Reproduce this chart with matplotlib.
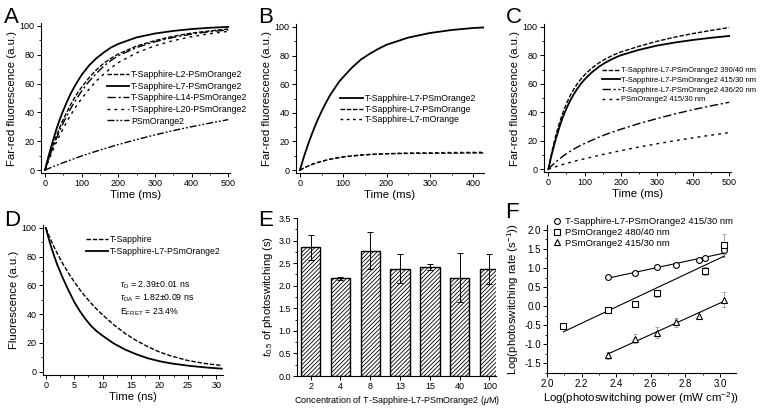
import numpy as np
import matplotlib
matplotlib.use("Agg")
import matplotlib.pyplot as plt
from matplotlib.ticker import MultipleLocator, FormatStrFormatter

plt.rcParams['font.family'] = ['Liberation Sans', 'DejaVu Sans']
plt.rcParams['mathtext.fontset'] = 'custom'
plt.rcParams['mathtext.rm'] = 'Liberation Sans'
plt.rcParams['mathtext.it'] = 'Liberation Sans:italic'
plt.rcParams['mathtext.bf'] = 'Liberation Sans:bold'
plt.rcParams['axes.unicode_minus'] = False
plt.rcParams['hatch.linewidth'] = 0.6

# ---------------- Data ----------------
# Panel A
tA = [0, 5, 10, 20, 30, 40, 50, 60, 70, 80, 90, 100, 120, 140, 160, 180, 200, 250, 300, 350, 400, 450, 500]
A_L2 = [0, 4.3, 8.3, 16, 23, 29.5, 35.3, 40.5, 45.5, 50, 54, 57.5, 64, 69.5, 74, 77.5, 80.5, 86, 89.8, 92.8, 95, 96.5, 97.8]
A_L7 = [0, 5.2, 10, 19, 27.5, 35, 41.5, 47.5, 53, 57.7, 62, 66, 72.5, 77.5, 81.5, 85, 87.5, 92, 94.7, 96.5, 97.8, 98.7, 99.3]
A_L14 = [0, 4, 7.7, 14.8, 21.3, 27.3, 32.8, 38, 42.7, 47, 51, 54.8, 61.5, 67, 72, 76, 79.3, 85, 89, 92, 94.3, 96, 97.2]
A_L20 = [0, 3.4, 6.7, 13, 18.8, 24, 29, 33.8, 38.2, 42.3, 46, 49.7, 56, 61.8, 66.5, 70.8, 74.5, 81.3, 86.2, 89.8, 92.5, 94.6, 96.2]
A_PSm = [0, 0.5, 1.1, 2.2, 3.2, 4.2, 5.2, 6.1, 7, 8, 8.9, 9.8, 11.5, 13.1, 14.7, 16.2, 17.7, 21.2, 24.4, 27.4, 30.1, 32.6, 35]
A_labels = ["T-Sapphire-L2-PSmOrange2", "T-Sapphire-L7-PSmOrange2",
            "T-Sapphire-L14-PSmOrange2", "T-Sapphire-L20-PSmOrange2", "PSmOrange2"]

# Panel B
tB = [0, 5, 10, 20, 30, 40, 50, 60, 70, 80, 90, 100, 120, 140, 160, 180, 200, 250, 300, 350, 400, 425]
B_L7PSm2 = [0, 5.1, 10, 19, 27, 34.5, 41, 47, 52.5, 57, 61.5, 65, 71.5, 77, 81, 84.5, 87.5, 92.5, 95.7, 97.8, 99.2, 99.6]
B_L7PSm = [0, 0.8, 1.6, 3, 4.2, 5.2, 6.1, 6.9, 7.6, 8.2, 8.7, 9.2, 9.9, 10.5, 10.9, 11.2, 11.4, 11.7, 11.8, 11.9, 12.0, 12.0]
B_L7mO = [0, 0.8, 1.6, 3, 4.2, 5.2, 6.1, 6.9, 7.6, 8.2, 8.7, 9.2, 9.9, 10.5, 10.9, 11.2, 11.5, 11.9, 12.1, 12.3, 12.4, 12.5]
B_labels = ["T-Sapphire-L7-PSmOrange2", "T-Sapphire-L7-PSmOrange", "T-Sapphire-L7-mOrange"]

# Panel C
tC = [0, 5, 10, 20, 30, 40, 50, 60, 70, 80, 90, 100, 120, 140, 160, 180, 200, 250, 300, 350, 400, 450, 500]
C_390 = [0, 6.5, 12.5, 23, 32, 39.5, 46, 51.5, 56, 60, 63.3, 66.2, 71, 74.7, 77.7, 80.2, 82.3, 86.3, 89.8, 92.8, 95.3, 97.5, 99.5]
C_415 = [0, 5.5, 11, 20.5, 29, 36.5, 42.5, 48, 52.5, 56.5, 60, 63, 68, 72, 75.2, 77.8, 80, 83.8, 86.8, 89, 90.8, 92.3, 93.6]
C_436 = [0, 1.3, 2.6, 4.9, 7, 9, 10.8, 12.5, 14, 15.5, 16.8, 18, 20.3, 22.5, 24.5, 26.3, 28, 32, 35.5, 38.8, 41.8, 44.5, 47]
C_PSm = [0, 0.4, 0.9, 1.7, 2.5, 3.3, 4, 4.7, 5.4, 6.1, 6.7, 7.3, 8.5, 9.7, 10.8, 11.9, 13, 15.5, 17.8, 20, 22, 23.9, 25.7]
C_labels = ["T-Sapphire-L7-PSmOrange2 390/40 nm", "T-Sapphire-L7-PSmOrange2 415/30 nm",
            "T-Sapphire-L7-PSmOrange2 436/20 nm", "PSmOrange2 415/30 nm"]

# Panel D
tD = [0, 0.5, 1, 1.5, 2, 3, 4, 5, 6, 7, 8, 9, 10, 12, 14, 16, 18, 20, 22, 25, 28, 31]
D_TS = [100, 95, 90.5, 86.3, 82.3, 75, 68.5, 62.5, 57, 52, 47.5, 43.3, 39.5, 32.5, 26.5, 21.5, 17.3, 13.7, 11, 7.8, 5.7, 4.3]
D_L7 = [100, 92.5, 86, 80, 74.5, 65, 56.5, 48.5, 42, 36.5, 31.7, 28, 25, 19.5, 15.3, 12, 9.3, 7.3, 5.8, 4.2, 3, 2.1]
D_labels = ["T-Sapphire", "T-Sapphire-L7-PSmOrange2"]

# Panel E
E_conc = ["2", "4", "8", "13", "15", "40", "100"]
E_t05 = [2.85, 2.16, 2.78, 2.38, 2.42, 2.18, 2.37]
E_err = [0.27, 0.04, 0.40, 0.33, 0.07, 0.54, 0.34]

# Panel F
F_circ_x = [2.35, 2.51, 2.635, 2.745, 2.88, 2.915, 3.025]
F_circ_y = [0.76, 0.88, 1.02, 1.08, 1.20, 1.26, 1.47]
F_circ_e = [0.04, 0.04, 0.05, 0.05, 0.05, 0.05, 0.10]
F_sq_x = [2.095, 2.35, 2.51, 2.635, 2.915, 3.025]
F_sq_y = [-0.53, -0.10, 0.05, 0.33, 0.92, 1.60]
F_sq_e = [0.03, 0.05, 0.06, 0.10, 0.10, 0.30]
F_tri_x = [2.35, 2.51, 2.635, 2.745, 2.88, 3.025]
F_tri_y = [-1.30, -0.86, -0.70, -0.43, -0.25, 0.17]
F_tri_e = [0.08, 0.12, 0.15, 0.12, 0.10, 0.20]
F_labels = ["T-Sapphire-L7-PSmOrange2 415/30 nm", "PSmOrange2 480/40 nm", "PSmOrange2 415/30 nm"]

# ---------------- Figure ----------------
W, H = 762, 409
fig = plt.figure(figsize=(W / 100, H / 100), dpi=100)


def add_ax(left, top, right, bottom):
    return fig.add_axes([left / W, 1 - bottom / H, (right - left) / W, (bottom - top) / H])


def style(ax, xmaj, xmin, ymaj, ymin):
    for s in ['top', 'right']:
        ax.spines[s].set_visible(False)
    for s in ['left', 'bottom']:
        ax.spines[s].set_linewidth(0.8)
    if xmaj:
        ax.xaxis.set_major_locator(MultipleLocator(xmaj))
        ax.xaxis.set_minor_locator(MultipleLocator(xmin))
    ax.yaxis.set_major_locator(MultipleLocator(ymaj))
    ax.yaxis.set_minor_locator(MultipleLocator(ymin))
    ax.tick_params(which='major', direction='out', length=3, width=0.7, labelsize=6.5, pad=1.5)
    ax.tick_params(which='minor', direction='out', length=1.7, width=0.6)


def leg(ax, x, y, fs=6.6, spacing=0.35, hl=2.3, htp=0.3):
    return ax.legend(loc='upper left', bbox_to_anchor=(x / W, 1 - y / H),
                     bbox_transform=fig.transFigure, frameon=False, fontsize=fs,
                     handlelength=hl, handletextpad=htp, labelspacing=spacing,
                     borderpad=0, borderaxespad=0)


lw = 1.0
dash = (0, (3.2, 1.3))
dot = (0, (2, 3))
dashdot = (0, (6, 2, 1.5, 2))
dashdotdot = (0, (5, 1.5, 1.3, 1.5, 1.3, 1.5))
lab_fs = 8.2

# Panel A
axA = add_ax(41, 23, 230, 173)
axA.plot(tA, A_L2, color='k', lw=lw, ls=dash, label=A_labels[0])
axA.plot(tA, A_L7, color='k', lw=1.3, ls='-', label=A_labels[1])
axA.plot(tA, A_L14, color='k', lw=lw, ls=dashdot, label=A_labels[2])
axA.plot(tA, A_L20, color='k', lw=lw, ls=dot, label=A_labels[3])
axA.plot(tA, A_PSm, color='k', lw=lw, ls=dashdotdot, label=A_labels[4])
axA.set_xlim(-11, 505)
axA.set_ylim(-2, 102)
style(axA, 100, 50, 20, 10)
axA.set_xlabel("Time (ms)", fontsize=lab_fs, labelpad=1)
axA.set_ylabel("Far-red fluorescence (a.u.)", fontsize=lab_fs, labelpad=2)
leg(axA, 107, 70, fs=6.3, spacing=0.3, hl=2.5, htp=0.25)

# Panel B
axB = add_ax(296, 24, 484, 173)
axB.plot(tB, B_L7PSm2, color='k', lw=1.3, ls='-', label=B_labels[0])
axB.plot(tB, B_L7PSm, color='k', lw=lw, ls=dash, label=B_labels[1])
axB.plot(tB, B_L7mO, color='k', lw=lw, ls=(0, (2, 2.5)), label=B_labels[2])
axB.set_xlim(-9, 425)
axB.set_ylim(-2, 102)
style(axB, 100, 50, 20, 10)
axB.set_xlabel("Time (ms)", fontsize=lab_fs, labelpad=1)
axB.set_ylabel("Far-red fluorescence (a.u.)", fontsize=lab_fs, labelpad=2)
leg(axB, 340, 94, fs=6.3, spacing=0.2, hl=2.6, htp=0.25)

# Panel C
axC = add_ax(544, 24, 731, 172)
axC.plot(tC, C_390, color='k', lw=lw, ls=dash, label=C_labels[0])
axC.plot(tC, C_415, color='k', lw=1.3, ls='-', label=C_labels[1])
axC.plot(tC, C_436, color='k', lw=lw, ls=dashdot, label=C_labels[2])
axC.plot(tC, C_PSm, color='k', lw=lw, ls=dot, label=C_labels[3])
axC.set_xlim(-12, 505)
axC.set_ylim(-2, 102)
style(axC, 100, 50, 20, 10)
axC.set_xlabel("Time (ms)", fontsize=lab_fs, labelpad=1)
axC.set_ylabel("Far-red fluorescence (a.u.)", fontsize=lab_fs, labelpad=2)
leg(axC, 602, 67, fs=5.5, spacing=0.3, hl=2.3, htp=0.2)

# Panel D
axD = add_ax(43, 225, 223, 375)
axD.plot(tD, D_TS, color='k', lw=lw, ls=dash, label=D_labels[0])
axD.plot(tD, D_L7, color='k', lw=1.3, ls='-', label=D_labels[1])
axD.set_xlim(-0.5, 31.2)
axD.set_ylim(-2.3, 102)
style(axD, 5, 2.5, 20, 10)
axD.set_xlabel("Time (ns)", fontsize=lab_fs, labelpad=1)
axD.set_ylabel("Fluorescence (a.u.)", fontsize=lab_fs, labelpad=2)
leg(axD, 86, 235, fs=6.2, spacing=0.3, hl=2.6, htp=0.2)
txt_fs = 6.3
axD.text(120 / W, 1 - 285 / H, r"$\tau_{\rm D}$ = 2.39$\pm$0.01 ns", transform=fig.transFigure,
         fontsize=txt_fs, va='center')
axD.text(120 / W, 1 - 298.5 / H, r"$\tau_{\rm DA}$ = 1.82$\pm$0.09 ns", transform=fig.transFigure,
         fontsize=txt_fs, va='center')
axD.text(120 / W, 1 - 312 / H, r"E$_{\rm FRET}$ = 23.4%", transform=fig.transFigure,
         fontsize=txt_fs, va='center')

# Panel E
axE = add_ax(297, 218, 496, 376)
xE = np.arange(len(E_conc))
axE.bar(xE, E_t05, width=0.65, color='white', edgecolor='k', hatch='////////', lw=1.0, zorder=2)
axE.errorbar(xE, E_t05, yerr=E_err, fmt='none', ecolor='k', elinewidth=0.7, capsize=2,
             capthick=0.7, zorder=3)
axE.set_xlim(-0.46, 6.22)
axE.set_ylim(0, 3.5)
style(axE, None, None, 0.5, 0.25)
axE.set_xticks(xE)
axE.set_xticklabels(E_conc)
axE.yaxis.set_major_formatter(FormatStrFormatter('%.1f'))
axE.set_xlabel(r"Concentration of T-Sapphire-L7-PSmOrange2 ($\mu$M)", fontsize=6.5, labelpad=2)
axE.set_ylabel(r"$\mathbf{\mathit{t}}_{0.5}$ of photoswitching (s)", fontsize=8, labelpad=2)

# Panel F
axF = add_ax(547, 225, 736, 373)
ms = 4.2
for xs, ys, es in [(F_circ_x, F_circ_y, F_circ_e), (F_sq_x, F_sq_y, F_sq_e), (F_tri_x, F_tri_y, F_tri_e)]:
    axF.errorbar(xs, ys, yerr=es, fmt='none', ecolor='0.6', elinewidth=0.6,
                 capsize=1.5, capthick=0.6)
    p = np.polyfit(xs, ys, 1)
    xx = np.array([min(xs), max(xs)])
    axF.plot(xx, np.polyval(p, xx), color='k', lw=0.8, zorder=2)
axF.plot(F_circ_x, F_circ_y, 'o', mfc='white', mec='k', ms=ms, mew=0.8, ls='none',
         label=F_labels[0], zorder=3)
axF.plot(F_sq_x, F_sq_y, 's', mfc='white', mec='k', ms=ms, mew=0.8, ls='none',
         label=F_labels[1], zorder=3)
axF.plot(F_tri_x, F_tri_y, '^', mfc='white', mec='k', ms=ms + 0.5, mew=0.8, ls='none',
         label=F_labels[2], zorder=3)
axF.set_xlim(2.0, 3.093)
axF.set_ylim(-1.76, 2.13)
style(axF, 0.2, 0.1, 0.5, 0.25)
axF.xaxis.set_major_formatter(FormatStrFormatter('%.1f'))
axF.yaxis.set_major_formatter(FormatStrFormatter('%.1f'))
axF.tick_params(labelsize=7)
axF.set_xlabel(r"Log(photoswitching power (mW cm$^{-2}$))", fontsize=lab_fs, labelpad=1)
axF.set_ylabel(r"Log(photoswitching rate (s$^{-1}$))", fontsize=lab_fs, labelpad=2)
leg(axF, 553, 217, fs=6.8, spacing=0.2, hl=0.9, htp=0.4)

# Panel letters
for lbl, x, y in [("A", 4, 7), ("B", 258, 7), ("C", 506, 7), ("D", 4, 210), ("E", 258, 210), ("F", 505, 202)]:
    fig.text(x / W, 1 - y / H, lbl, fontsize=16, va='top', ha='left')

fig.savefig("out.png", dpi=100)
